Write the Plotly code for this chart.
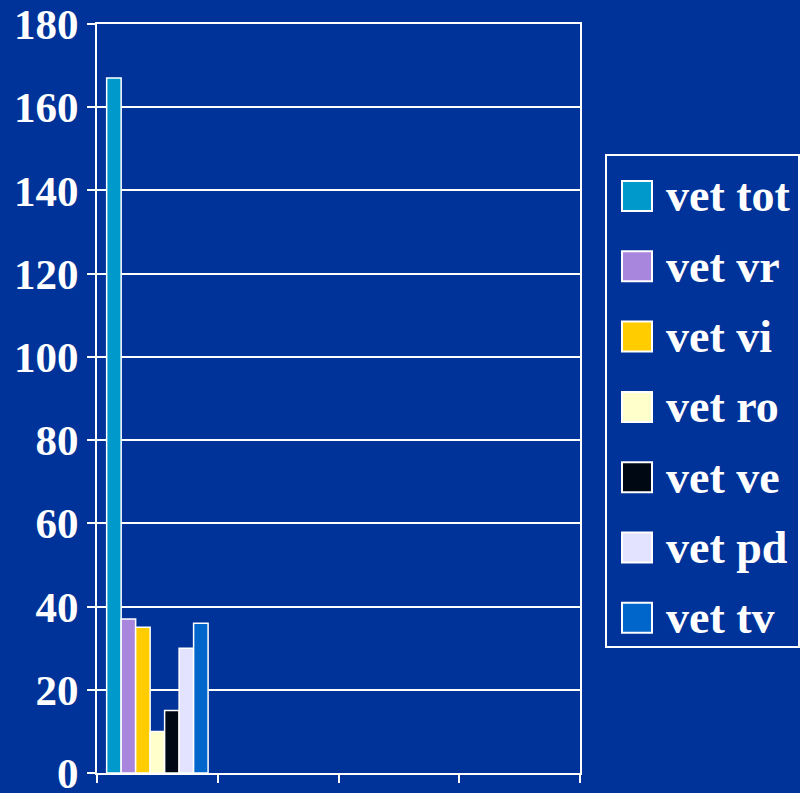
import plotly.graph_objects as go

# ---- data ----
series_names = ["vet tot", "vet vr", "vet vi", "vet ro", "vet ve", "vet pd", "vet tv"]
series_values = [167, 37, 35, 10, 15, 30, 36]
series_colors = ["#0099CC", "#A886DD", "#FFCC00", "#FFFFCC", "#000814", "#E3E3FF", "#0066CC"]
categories = [1, 2, 3, 4]          # four category slots, only the first holds data
y_ticks = [0, 20, 40, 60, 80, 100, 120, 140, 160, 180]

BG = "#00339A"
FONT = "Liberation Serif"

fig = go.Figure()
for name, val, col in zip(series_names, series_values, series_colors):
    fig.add_trace(go.Bar(
        x=[categories[0]], y=[val], name=name,
        marker=dict(color=col, line=dict(color="white", width=1.5)),
        showlegend=False,
    ))

fig.update_layout(
    width=800, height=793,
    paper_bgcolor=BG, plot_bgcolor="rgba(0,0,0,0)",
    margin=dict(l=97, r=220, t=24, b=20),
    barmode="group", bargap=0.16, bargroupgap=0,
    font=dict(family=FONT, color="white"),
    xaxis=dict(
        range=[0.5, 4.5], tickmode="array",
        tickvals=[c - 0.5 for c in categories] + [categories[-1] + 0.5],
        ticktext=[""] * (len(categories) + 1),
        ticks="outside", ticklen=8, tickwidth=2, tickcolor="white",
        showline=True, linecolor="white", linewidth=2, mirror=True,
        showgrid=False, zeroline=False, automargin=False,
    ),
    yaxis=dict(
        range=[0, 180], tickmode="array", tickvals=y_ticks,
        ticktext=[str(t) for t in y_ticks],
        ticks="outside", ticklen=8, tickwidth=2, tickcolor="white",
        tickfont=dict(family=FONT, size=43, color="white", weight="bold"),
        ticklabeloverflow="allow",
        showline=True, linecolor="white", linewidth=2, mirror=True,
        showgrid=True, gridcolor="white", gridwidth=2,
        zeroline=False, automargin=False,
    ),
)

# ---- custom legend (large square swatches) ----
fig.add_shape(type="rect", xref="paper", yref="paper",
              x0=(606 - 97) / 483, x1=(799 - 97) / 483,
              y0=(793 - 20 - 647) / 749, y1=(793 - 20 - 155) / 749,
              line=dict(color="white", width=2), fillcolor="rgba(0,0,0,0)")
for i, (name, col) in enumerate(zip(series_names, series_colors)):
    cy = 196 + i * 70.3
    fig.add_shape(type="rect", xref="paper", yref="paper",
                  x0=(622 - 97) / 483, x1=(652 - 97) / 483,
                  y0=(773 - (cy + 15)) / 749, y1=(773 - (cy - 15)) / 749,
                  line=dict(color="white", width=2), fillcolor=col)
    fig.add_annotation(xref="paper", yref="paper",
                       x=(664 - 97) / 483, y=(773 - cy) / 749,
                       text=name, showarrow=False, xanchor="left", yanchor="middle",
                       font=dict(family=FONT, size=46, color="white", weight="bold"))

fig.write_html(
    "out.html",
    config={"displayModeBar": False},
    post_script="document.body.style.margin='0';document.body.style.background='%s';"
                "document.body.style.overflow='hidden';" % BG,
)
